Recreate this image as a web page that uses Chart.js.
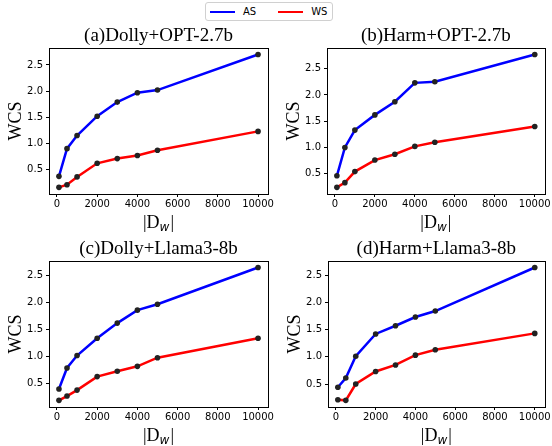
<!DOCTYPE html>
<html>
<head>
<meta charset="utf-8">
<script src="https://cdn.jsdelivr.net/npm/chart.js@4.4.1/dist/chart.umd.min.js"></script>
<style>
  body { margin: 0; background: #fff; width: 552px; height: 446px; position: relative; overflow: hidden; }
  .panel { position: absolute; }
  #legend {
    position: absolute; left: 205px; top: 2px; height: 19px;
    border: 1px solid #d0d0d0; border-radius: 3px; box-sizing: border-box;
    display: flex; align-items: center; padding: 0 5px 0 4px;
    font: 10px "DejaVu Sans", sans-serif; color: #000;
  }
  #legend .sw { display: inline-block; width: 25px; height: 2px; margin-right: 8px; }
  #legend .lab { margin-right: 22px; }
  #legend .lab:last-child { margin-right: 0; }
</style>
</head>
<body>
<div id="legend">
  <span class="sw" style="background:#0000ff"></span><span class="lab">AS</span>
  <span class="sw" style="background:#ff0000"></span><span class="lab">WS</span>
</div>
<div class="panel" style="left:0px;top:25px;width:276px;height:207px"><canvas id="c0"></canvas></div>
<div class="panel" style="left:278px;top:25px;width:274px;height:207px"><canvas id="c1"></canvas></div>
<div class="panel" style="left:0px;top:238px;width:276px;height:207px"><canvas id="c2"></canvas></div>
<div class="panel" style="left:279px;top:238px;width:273px;height:207px"><canvas id="c3"></canvas></div>
<script>
// dataset sizes |D_w|
const dwSizes = [100, 500, 1000, 2000, 3000, 4000, 5000, 10000];

const panelTitles = ['(a)Dolly+OPT-2.7b', '(b)Harm+OPT-2.7b', '(c)Dolly+Llama3-8b', '(d)Harm+Llama3-8b'];
const seriesNames = ['AS', 'WS'];

const asDollyOpt = [0.37, 0.90, 1.15, 1.52, 1.79, 1.97, 2.02, 2.70];
const wsDollyOpt = [0.16, 0.21, 0.36, 0.62, 0.71, 0.77, 0.87, 1.23];
const asHarmOpt = [0.46, 1.00, 1.33, 1.62, 1.87, 2.23, 2.25, 2.77];
const wsHarmOpt = [0.24, 0.33, 0.54, 0.76, 0.87, 1.02, 1.10, 1.40];
const asDollyLlama = [0.39, 0.78, 1.01, 1.33, 1.61, 1.85, 1.96, 2.64];
const wsDollyLlama = [0.18, 0.26, 0.37, 0.62, 0.72, 0.81, 0.97, 1.33];
const asHarmLlama = [0.44, 0.61, 1.01, 1.42, 1.57, 1.73, 1.84, 2.64];
const wsHarmLlama = [0.21, 0.20, 0.50, 0.73, 0.85, 1.03, 1.13, 1.43];

const xTickValues = [0, 2000, 4000, 6000, 8000, 10000];
const yTickValues = [0.5, 1.0, 1.5, 2.0, 2.5];

const panels = [
  [asDollyOpt, wsDollyOpt],
  [asHarmOpt, wsHarmOpt],
  [asDollyLlama, wsDollyLlama],
  [asHarmLlama, wsHarmLlama]
];
const padRight = [8, 5, 8, 5];

// matplotlib-like 5% margins
function padRange(vals) {
  const lo = Math.min(...vals), hi = Math.max(...vals);
  const m = (hi - lo) * 0.05;
  return [lo - m, hi + m];
}

// box around the axes + the |D_w| label with subscript
const framePlugin = {
  id: 'frame',
  afterDraw(chart) {
    const { ctx, chartArea: a } = chart;
    ctx.save();
    ctx.strokeStyle = '#000';
    ctx.lineWidth = 1;
    ctx.strokeRect(Math.round(a.left) + 0.5, Math.round(a.top) + 0.5,
      Math.round(a.right - a.left), Math.round(a.bottom - a.top));

    const big = '18px "Liberation Serif"';
    const sub = 'italic 12px "DejaVu Sans"';
    ctx.fillStyle = '#000';
    ctx.textBaseline = 'alphabetic';
    ctx.font = big;
    const w1 = ctx.measureText('|D').width;
    const w3 = ctx.measureText('|').width;
    ctx.font = sub;
    const w2 = ctx.measureText('w').width + 1;
    let x = (a.left + a.right) / 2 - (w1 + w2 + w3) / 2;
    const base = a.bottom + 34;
    ctx.font = big;
    ctx.fillText('|D', x, base);
    ctx.font = sub;
    ctx.fillText('w', x + w1, base + 3);
    ctx.font = big;
    ctx.fillText('|', x + w1 + w2, base);
    ctx.restore();
  }
};

panels.forEach((pair, i) => {
  const yr = padRange(pair[0].concat(pair[1]));
  const xr = padRange(dwSizes);
  new Chart(document.getElementById('c' + i), {
    type: 'line',
    data: {
      datasets: pair.map((vals, k) => ({
        label: seriesNames[k],
        data: dwSizes.map((x, j) => ({ x: x, y: vals[j] })),
        borderColor: k === 0 ? '#0000ff' : '#ff0000',
        borderWidth: 2.5,
        pointRadius: 2.8,
        pointBackgroundColor: '#222',
        pointBorderColor: '#222',
        pointBorderWidth: 0,
        tension: 0
      }))
    },
    options: {
      responsive: true,
      maintainAspectRatio: false,
      animation: false,
      layout: { padding: { left: 0, right: padRight[i], top: 0, bottom: 0 } },
      plugins: {
        legend: { display: false },
        tooltip: { enabled: false },
        title: {
          display: true,
          text: panelTitles[i],
          fullSize: false,
          color: '#000',
          font: { family: 'Liberation Serif', size: 19, weight: 'normal', lineHeight: 1.15 },
          padding: { top: 0, bottom: 1 }
        }
      },
      scales: {
        x: {
          type: 'linear',
          min: xr[0],
          max: xr[1],
          afterFit: (s) => { s.height = 38; },
          afterBuildTicks: (s) => { s.ticks = xTickValues.map(v => ({ value: v })); },
          grid: { drawOnChartArea: false, drawTicks: true, tickLength: 3, color: '#000' },
          border: { display: false },
          ticks: {
            color: '#000', padding: 1, maxRotation: 0, autoSkip: false,
            font: { family: 'DejaVu Sans', size: 10 },
            callback: (v) => String(v)
          }
        },
        y: {
          min: yr[0],
          max: yr[1],
          afterFit: (s) => { s.width = 49; },
          afterBuildTicks: (s) => { s.ticks = yTickValues.map(v => ({ value: v })); },
          grid: { drawOnChartArea: false, drawTicks: true, tickLength: 3, color: '#000' },
          border: { display: false },
          ticks: {
            color: '#000', padding: 3, autoSkip: false,
            font: { family: 'DejaVu Sans', size: 10 },
            callback: (v) => v.toFixed(1)
          },
          title: {
            display: true,
            text: 'WCS',
            color: '#000',
            font: { family: 'Liberation Serif', size: 18, lineHeight: 1.2 },
            padding: { top: 5, bottom: 0 }
          }
        }
      }
    },
    plugins: [framePlugin]
  });
});
</script>
</body>
</html>
